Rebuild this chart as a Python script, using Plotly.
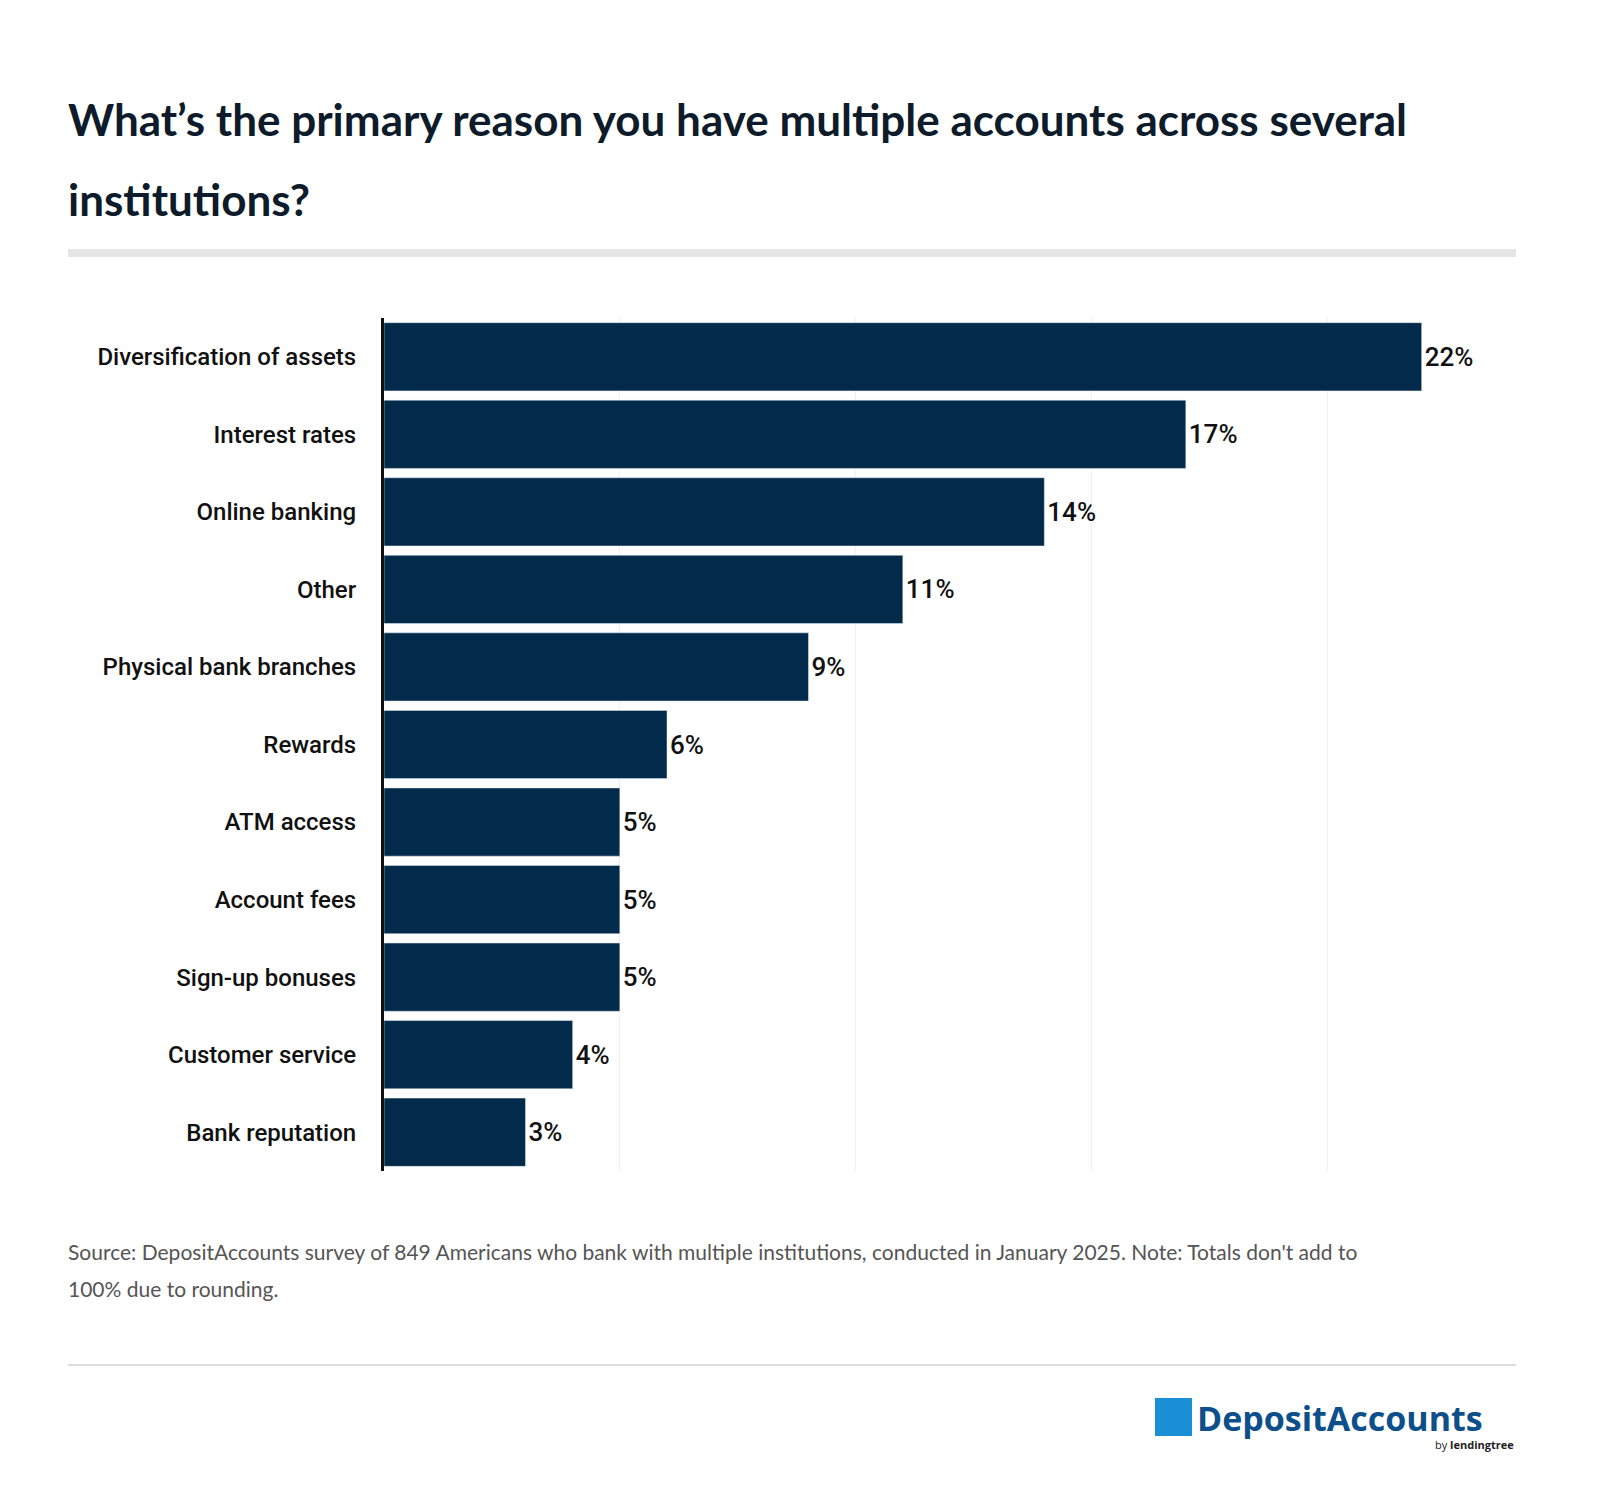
import plotly.graph_objects as go

categories = ["Diversification of assets", "Interest rates", "Online banking", "Other",
              "Physical bank branches", "Rewards", "ATM access", "Account fees",
              "Sign-up bonuses", "Customer service", "Bank reputation"]
values = [22, 17, 14, 11, 9, 6, 5, 5, 5, 4, 3]
tick_vals = [0, 5, 10, 15, 20]

NAVY = "#022a4a"
PW, PH = 1132, 853  # plot width / height in px


def px(x):
    return (x - 376) / PW


def py(y):
    return 1 - (y - 310) / PH


fig = go.Figure(go.Bar(
    y=categories,
    x=values,
    orientation="h",
    marker=dict(color=NAVY),
    text=[f"{v}%" for v in values],
    textposition="outside",
    textfont=dict(family="Roboto", size=26, color="#111111", weight=500),
    cliponaxis=False,
    hoverinfo="skip",
))

fig.update_layout(
    width=1600, height=1506,
    paper_bgcolor="white", plot_bgcolor="white",
    margin=dict(l=376, r=92, t=310, b=343),
    bargap=0.12,
    showlegend=False,
    xaxis=dict(range=[0, 24], tickvals=tick_vals, showticklabels=False,
               showgrid=True, gridcolor="#f0f0f0", gridwidth=1, zeroline=False),
    yaxis=dict(autorange="reversed", showline=True, linecolor="#111111", linewidth=3,
               ticks="", ticklabelstandoff=20,
               tickfont=dict(family="Roboto", size=24, color="#111111", weight=500)),
    font=dict(family="Lato"),
)

# title
for txt, yy in [("What’s the primary reason you have multiple accounts across several", 111),
                ("institutions?", 191)]:
    fig.add_annotation(text=txt, xref="paper", yref="paper", x=px(58), y=py(yy),
                       xanchor="left", yanchor="middle", showarrow=False,
                       font=dict(family="Lato", size=44, color="#0d1b2a", weight="bold"))
fig.add_shape(type="rect", xref="paper", yref="paper",
              x0=px(60), x1=1, y0=py(249), y1=py(241),
              fillcolor="#e6e6e6", line_width=0)

# source note
for txt, yy in [("Source: DepositAccounts survey of 849 Americans who bank with multiple institutions, conducted in January 2025. Note: Totals don't add to", 1243),
                ("100% due to rounding.", 1280)]:
    fig.add_annotation(text=txt, xref="paper", yref="paper", x=px(58), y=py(yy),
                       xanchor="left", yanchor="middle", showarrow=False,
                       font=dict(family="Lato", size=21, color="#555555"))
fig.add_shape(type="line", xref="paper", yref="paper",
              x0=px(60), x1=1, y0=py(1357), y1=py(1357),
              line=dict(color="#dddddd", width=2))

# logo
fig.add_shape(type="rect", xref="paper", yref="paper",
              x0=px(1147), x1=px(1184), y0=py(1428), y1=py(1390),
              fillcolor="#1a8fd6", line_width=0)
fig.add_annotation(text="DepositAccounts", xref="paper", yref="paper",
                   x=px(1187), y=py(1410),
                   xanchor="left", yanchor="middle", showarrow=False,
                   font=dict(family="Open Sans", size=34, color="#0c4f8a", weight="bold"))
fig.add_annotation(text="by <b>lendingtree</b>", xref="paper", yref="paper",
                   x=1, y=py(1436),
                   xanchor="right", yanchor="middle", showarrow=False,
                   font=dict(family="Open Sans", size=11, color="#222222"))

fig.write_html("out.html")
